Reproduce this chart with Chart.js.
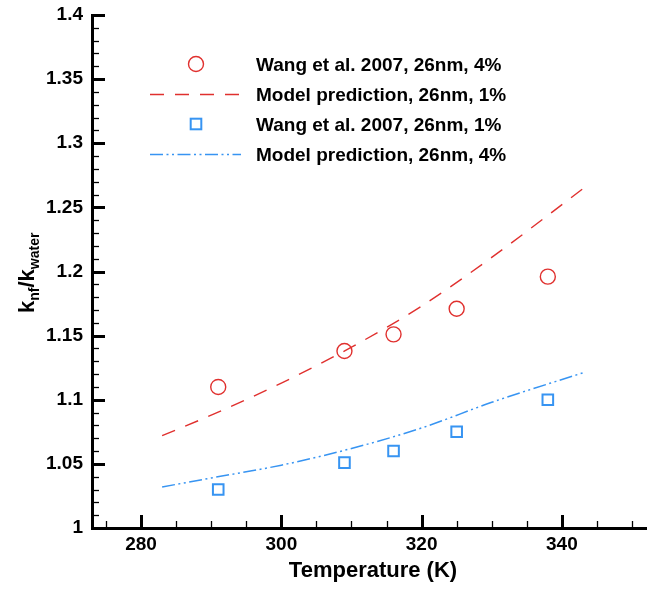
<!DOCTYPE html>
<html>
<head>
<meta charset="utf-8">
<script src="https://cdn.jsdelivr.net/npm/chart.js@4.4.1/dist/chart.umd.min.js"></script>
<style>
  html, body { margin: 0; padding: 0; background: #fff; }
  canvas { display: block; }
</style>
</head>
<body>
<canvas id="chart" width="649" height="592"></canvas>
<script>
// measured points (Wang et al. 2007)
const tempExp = [291, 309, 316, 325, 338];
const wang4 = [1.110, 1.138, 1.151, 1.171, 1.196];
const wang1 = [1.030, 1.051, 1.060, 1.075, 1.100];

// model curves
const tempModel = [283, 290, 300, 310, 320, 330, 343];
const model1 = [1.072, 1.088, 1.113, 1.141, 1.173, 1.211, 1.2645];
const model4 = [1.032, 1.039, 1.049, 1.062, 1.078, 1.098, 1.121];

const xTicks = [280, 300, 320, 340];
const yTicks = [1, 1.05, 1.1, 1.15, 1.2, 1.25, 1.3, 1.35, 1.4];

const labels = [
    'Wang et al. 2007, 26nm, 4%',
    'Model prediction, 26nm, 1%',
    'Wang et al. 2007, 26nm, 1%',
    'Model prediction, 26nm, 4%'
];

const RED = '#e0302e';
const BLUE = '#3794f2';
const FONT = "'Liberation Sans', Arial, Helvetica, sans-serif";

const toPoints = (xs, ys) => xs.map((x, i) => ({ x: x, y: ys[i] }));

// inward ticks, minor ticks, axis titles and the legend inside the plot
const decorPlugin = {
    id: 'decor',
    afterDraw(chart) {
        const ctx = chart.ctx;
        const xs = chart.scales.x;
        const ys = chart.scales.y;
        const area = chart.chartArea;
        ctx.save();
        ctx.strokeStyle = '#000';

        // x ticks
        for (let v = 275; v <= 350; v += 5) {
            const px = Math.round(xs.getPixelForValue(v)) + 0.5;
            const major = xTicks.includes(v);
            ctx.lineWidth = major ? 3 : 1.3;
            ctx.beginPath();
            ctx.moveTo(px, area.bottom);
            ctx.lineTo(px, area.bottom - (major ? 13 : 7));
            ctx.stroke();
        }
        // y ticks
        for (let i = 0; i <= 40; i++) {
            const v = 1 + i * 0.01;
            const py = Math.round(ys.getPixelForValue(v)) + 0.5;
            const major = i % 5 === 0;
            ctx.lineWidth = major ? 3 : 1.3;
            ctx.beginPath();
            ctx.moveTo(area.left, py);
            ctx.lineTo(area.left + (major ? 13 : 7), py);
            ctx.stroke();
        }

        // x title
        ctx.fillStyle = '#000';
        ctx.font = 'bold 22px ' + FONT;
        ctx.textAlign = 'center';
        ctx.textBaseline = 'alphabetic';
        ctx.fillText('Temperature (K)', 373, 577);

        // y title k_nf / k_water
        ctx.save();
        ctx.translate(34, 313);
        ctx.rotate(-Math.PI / 2);
        ctx.textAlign = 'left';
        let cx = 0;
        const big = 'bold 22px ' + FONT;
        const sub = 'bold 14px ' + FONT;
        const parts = [['k', big, 0], ['nf', sub, 5], ['/', big, 0], ['k', big, 0], ['water', sub, 5]];
        parts.forEach(p => {
            ctx.font = p[1];
            ctx.fillText(p[0], cx, p[2]);
            cx += ctx.measureText(p[0]).width;
        });
        ctx.restore();

        // legend
        const rows = [64, 94, 124, 154];
        const symX = 196;
        ctx.font = 'bold 19px ' + FONT;
        ctx.textAlign = 'left';
        chart.data.datasets.forEach((ds, i) => {
            const y = rows[i];
            ctx.save();
            ctx.strokeStyle = ds.borderColor;
            if (ds.showLine) {
                ctx.lineWidth = ds.borderWidth;
                ctx.setLineDash(ds.borderDash);
                ctx.beginPath();
                ctx.moveTo(150, y + 0.5);
                ctx.lineTo(241, y + 0.5);
                ctx.stroke();
            } else if (ds.pointStyle === 'circle') {
                ctx.lineWidth = ds.pointBorderWidth;
                ctx.beginPath();
                ctx.arc(symX, y, ds.pointRadius, 0, Math.PI * 2);
                ctx.stroke();
            } else {
                ctx.lineWidth = ds.pointBorderWidth;
                const s = ds.pointRadius * Math.SQRT1_2;
                ctx.strokeRect(symX - s, y - s, 2 * s, 2 * s);
            }
            ctx.restore();
            ctx.fillStyle = '#000';
            ctx.fillText(ds.label, 256, y + 7);
        });
        ctx.restore();
    }
};

new Chart(document.getElementById('chart'), {
    type: 'scatter',
    data: {
        datasets: [
            {
                label: labels[0],
                data: toPoints(tempExp, wang4),
                showLine: false,
                pointStyle: 'circle',
                pointRadius: 7.5,
                pointBorderWidth: 1.4,
                pointBackgroundColor: 'rgba(0,0,0,0)',
                borderColor: RED,
                pointBorderColor: RED
            },
            {
                label: labels[1],
                data: toPoints(tempModel, model1),
                showLine: true,
                borderColor: RED,
                borderWidth: 1.4,
                borderDash: [14, 11],
                pointRadius: 0,
                cubicInterpolationMode: 'monotone'
            },
            {
                label: labels[2],
                data: toPoints(tempExp, wang1),
                showLine: false,
                pointStyle: 'rect',
                pointRadius: 7.5,
                pointBorderWidth: 2,
                pointBackgroundColor: 'rgba(0,0,0,0)',
                borderColor: BLUE,
                pointBorderColor: BLUE
            },
            {
                label: labels[3],
                data: toPoints(tempModel, model4),
                showLine: true,
                borderColor: BLUE,
                borderWidth: 1.5,
                borderDash: [13, 3.5, 2, 3.5, 2, 3.5],
                pointRadius: 0,
                cubicInterpolationMode: 'monotone'
            }
        ]
    },
    options: {
        responsive: false,
        animation: false,
        devicePixelRatio: 1,
        layout: { autoPadding: false, padding: { top: 15, right: 3, left: 0, bottom: 0 } },
        plugins: {
            legend: { display: false },
            tooltip: { enabled: false }
        },
        scales: {
            x: {
                type: 'linear',
                min: 273,
                max: 352,
                afterBuildTicks: s => { s.ticks = xTicks.map(v => ({ value: v })); },
                afterFit: s => { s.height = 64; },
                grid: { display: false, drawTicks: false },
                border: { display: true, color: '#000', width: 3 },
                ticks: {
                    color: '#000',
                    padding: 5,
                    maxRotation: 0,
                    font: { family: FONT, size: 19, weight: 'bold' },
                    callback: v => String(v)
                }
            },
            y: {
                type: 'linear',
                min: 1,
                max: 1.4,
                afterBuildTicks: s => { s.ticks = yTicks.map(v => ({ value: v })); },
                afterFit: s => { s.width = 92; },
                grid: { display: false, drawTicks: false },
                border: { display: true, color: '#000', width: 3 },
                ticks: {
                    color: '#000',
                    padding: 9,
                    font: { family: FONT, size: 19, weight: 'bold', lineHeight: 0.6 },
                    callback: v => String(+v.toFixed(2))
                }
            }
        }
    },
    plugins: [decorPlugin]
});
</script>
</body>
</html>
